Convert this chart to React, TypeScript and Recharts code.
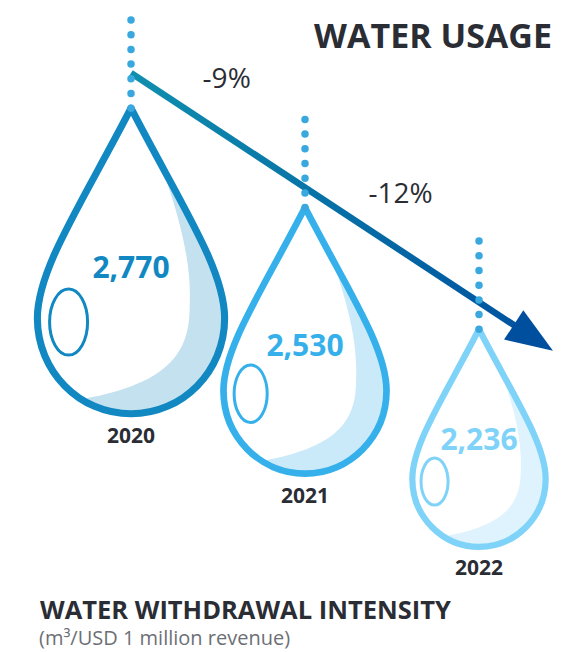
import { ComposedChart, ReferenceLine, Scatter, XAxis, YAxis, ZAxis } from "recharts";

// water withdrawal intensity, m3 per USD 1 million revenue
const years = [2020, 2021, 2022];
const intensity = [2770, 2530, 2236];

const strokeColors = ["#1188c2", "#36b0eb", "#7fd3f8"];
const shadeColors = ["#c4e1ef", "#cbeaf9", "#def3fd"];

// trend arrow drawn over the drops, in data units
const trendStart = { year: 2020, value: 2855 };
const trendEnd = { year: 2022.425, value: 2184 };

const data = years.map((year, i) => ({ year, value: intensity[i] }));

const changes = intensity
  .slice(1)
  .map((v, i) => Math.round(((v - intensity[i]) / intensity[i]) * 100));

const FONT = "'Open Sans', 'Noto Sans', sans-serif";
const DARK = "#2b2d35";

function Drop(props: any) {
  const { cx, cy, payload, size, width } = props;
  const i = years.indexOf(payload.year);
  const h = typeof size === "number" ? size : Math.PI * (width / 2) ** 2;
  const p = (x: number, y: number) => `${cx + x * h},${cy + y * h}`;

  const outline =
    `M${p(0, 0)} C${p(0.16, 0.31)} ${p(0.303, 0.52)} ${p(0.303, 0.68)} ` +
    `C${p(0.303, 0.851)} ${p(0.167, 0.989)} ${p(0, 0.989)} ` +
    `C${p(-0.167, 0.989)} ${p(-0.303, 0.851)} ${p(-0.303, 0.68)} ` +
    `C${p(-0.303, 0.52)} ${p(-0.16, 0.31)} ${p(0, 0)} Z`;
  const white =
    `M${p(-0.6, -0.1)} L${p(0.03, -0.1)} L${p(0.03, 0)} ` +
    `C${p(0.1, 0.2)} ${p(0.2, 0.42)} ${p(0.19, 0.64)} ` +
    `C${p(0.19, 0.8)} ${p(0.12, 0.92)} ${p(-0.3, 0.96)} L${p(-0.6, 1.2)} Z`;
  const clipId = `drop-clip-${payload.year}`;
  const sw = 4 + h * 0.01;

  return (
    <g>
      <defs>
        <clipPath id={clipId}>
          <path d={outline} />
        </clipPath>
      </defs>
      <path d={outline} fill={shadeColors[i]} />
      <path d={white} fill="#fff" clipPath={`url(#${clipId})`} />
      <path
        d={outline}
        fill="none"
        stroke={strokeColors[i]}
        strokeWidth={sw}
        strokeLinejoin="round"
      />
      <ellipse
        cx={cx - 0.202 * h}
        cy={cy + 0.692 * h}
        rx={0.0615 * h}
        ry={0.107 * h}
        fill="none"
        stroke={strokeColors[i]}
        strokeWidth={3}
      />
      <line
        x1={cx}
        y1={cy}
        x2={cx}
        y2={cy - 89}
        stroke="#39a8df"
        strokeWidth={7.5}
        strokeLinecap="round"
        strokeDasharray="0 14.7"
      />
      <text
        x={cx}
        y={cy + 0.55 * h}
        textAnchor="middle"
        fontFamily={FONT}
        fontSize={30}
        fontWeight={700}
        fill={strokeColors[i]}
      >
        {payload.value.toLocaleString("en-US")}
      </text>
      <text
        x={cx}
        y={cy + h + 26}
        textAnchor="middle"
        fontFamily={FONT}
        fontSize={21}
        fontWeight={700}
        fill={DARK}
      >
        {payload.year}
      </text>
    </g>
  );
}

function TrendArrow(props: any) {
  const { x1, y1, x2, y2 } = props;
  const dx = x2 - x1;
  const dy = y2 - y1;
  const len = Math.hypot(dx, dy);
  const ux = dx / len;
  const uy = dy / len;
  const headLen = 47;
  const headHalf = 17.5;
  const bx = x2 - ux * headLen;
  const by = y2 - uy * headLen;
  const head = `${x2},${y2} ${bx - uy * headHalf},${by + ux * headHalf} ${bx + uy * headHalf},${by - ux * headHalf}`;
  const span = trendEnd.year - trendStart.year;

  return (
    <g>
      <defs>
        <linearGradient id="trend-grad" gradientUnits="userSpaceOnUse" x1={x1} y1={y1} x2={bx} y2={by}>
          <stop offset="0" stopColor="#0f8fae" />
          <stop offset="1" stopColor="#0054a0" />
        </linearGradient>
      </defs>
      <line
        x1={x1}
        y1={y1}
        x2={bx + ux * 6}
        y2={by + uy * 6}
        stroke="url(#trend-grad)"
        strokeWidth={6.5}
      />
      <polygon points={head} fill="#004f9f" />
      {changes.map((c, k) => {
        const t = (years[k] + 0.55 - trendStart.year) / span;
        return (
          <text
            key={k}
            x={x1 + t * dx}
            y={y1 + t * dy - 48}
            textAnchor="middle"
            fontFamily={FONT}
            fontSize={28}
            fill={DARK}
          >
            {`${c}%`}
          </text>
        );
      })}
    </g>
  );
}

export default function App() {
  return (
    <div style={{ position: "absolute", left: 0, top: 0, width: 567, height: 652, background: "#fff" }}>
      <ComposedChart
        width={567}
        height={652}
        data={data}
        margin={{ top: 13, right: 1, bottom: 18, left: 44 }}
      >
        <XAxis type="number" dataKey="year" domain={[2019.5, 2022.5]} hide />
        <YAxis type="number" domain={[1500, 3000]} hide />
        <ZAxis type="number" dataKey="value" domain={["dataMin", "dataMax"]} range={[220, 309]} />
        <ReferenceLine
          segment={[
            { x: trendStart.year, y: trendStart.value },
            { x: trendEnd.year, y: trendEnd.value },
          ]}
          ifOverflow="visible"
          shape={TrendArrow}
        />
        <Scatter dataKey="value" shape={Drop} isAnimationActive={false} />
      </ComposedChart>
      <svg
        width={567}
        height={652}
        style={{ position: "absolute", left: 0, top: 0, pointerEvents: "none" }}
      >
        <text x={552} y={48} textAnchor="end" fontFamily={FONT} fontSize={34} fontWeight={700} fill={DARK}>
          WATER USAGE
        </text>
        <text x={40} y={619} fontFamily={FONT} fontSize={25.5} fontWeight={700} fill={DARK}>
          WATER WITHDRAWAL INTENSITY
        </text>
        <text x={39} y={645} fontFamily={FONT} fontSize={20} fill="#6d6f76">
          (m³/USD 1 million revenue)
        </text>
      </svg>
    </div>
  );
}
